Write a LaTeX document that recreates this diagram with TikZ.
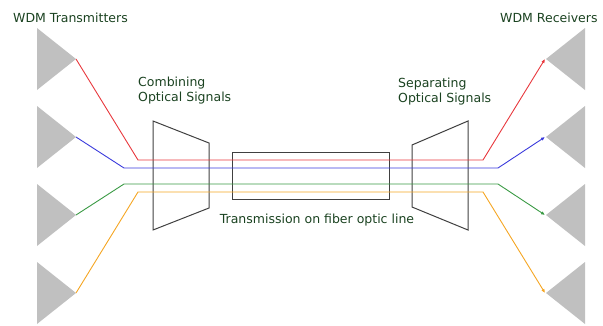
\documentclass[tikz,border=0pt]{standalone}
\usepackage{fontspec}
\setmainfont{DejaVu Sans}
\usetikzlibrary{arrows.meta}
\definecolor{labelgreen}{HTML}{1A4220}
\definecolor{devgray}{HTML}{C0C0C0}
\definecolor{framegray}{HTML}{404040}
\definecolor{sigred}{HTML}{E8383D}
\definecolor{sigblue}{HTML}{3A3ADC}
\definecolor{siggreen}{HTML}{3A9A44}
\definecolor{sigorange}{HTML}{F5A623}
\tikzset{
  sig/.style={line width=0.9pt},
  rxarrow/.style={-{Latex[length=4pt,width=3.5pt]}},
  device/.style={fill=devgray},
  optic/.style={draw=framegray, line width=1pt},
  textlbl/.style={font=\fontsize{12.5}{15}\selectfont, text=labelgreen, inner sep=0pt, align=left}
}

\begin{document}
\begin{tikzpicture}[x=1pt,y=-1pt]
\useasboundingbox (0,0) rectangle (603,325);
% transmitters (left) and receivers (right)
\foreach \i in {1,...,4}{
  \pgfmathsetmacro{\tritop}{28+78*(\i-1)}
  \fill[device] (37,\tritop) -- (76,\tritop+31) -- (37,\tritop+62) -- cycle;
  \coordinate (tx\i) at (76,\tritop+31);
  \fill[device] (585,\tritop) -- (546,\tritop+31) -- (585,\tritop+62) -- cycle;
  \coordinate (rx\i) at (545,\tritop+31);
}
% multiplexer, fiber, demultiplexer
\draw[optic] (153,121) -- (209,143) -- (209,208) -- (153,230) -- cycle;
\node[optic, minimum width=157pt, minimum height=47pt, inner sep=0pt] (fiber) at (310.5,175.5) {};
\draw[optic] (412,145) -- (468,121) -- (468,230) -- (412,207) -- cycle;
% bend points
\coordinate (r1) at (138,160); \coordinate (r2) at (483,160);
\coordinate (b1) at (124,168); \coordinate (b2) at (498,168);
\coordinate (g1) at (124,184); \coordinate (g2) at (498,184);
\coordinate (o1) at (138,192); \coordinate (o2) at (483,192);
\draw[sig, rxarrow, sigred] (tx1) -- (r1) -- (r2) -- (rx1);
\draw[sig, rxarrow, sigblue] (tx2) -- (b1) -- (b2) -- (rx2);
\draw[sig, rxarrow, siggreen] (tx3) -- (g1) -- (g2) -- (rx3);
\draw[sig, rxarrow, sigorange] (tx4) -- (o1) -- (o2) -- (rx4);
% labels
\node[textlbl, anchor=west] (txlabel) at (13,18) {WDM Transmitters};
\node[textlbl, anchor=west] (rxlabel) at (500,18) {WDM Receivers};
\node[textlbl, anchor=west] (muxlabel) at (138,90.5) {Combining\\Optical Signals};
\node[textlbl, anchor=west] (demuxlabel) at (398,92) {Separating\\Optical Signals};
\node[textlbl] (fiberlabel) at (317,220) {Transmission on fiber optic line};
\end{tikzpicture}
\end{document}
